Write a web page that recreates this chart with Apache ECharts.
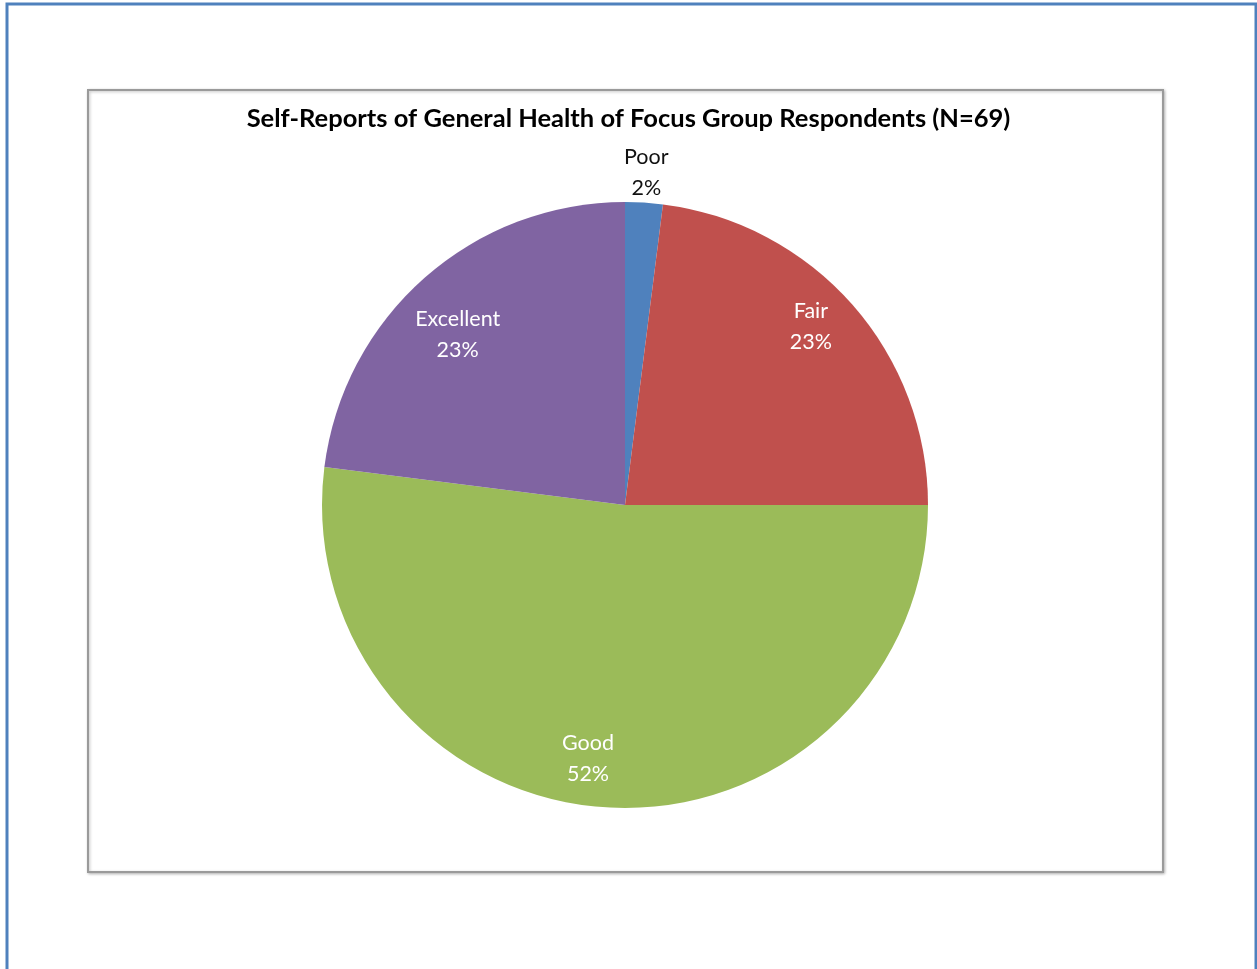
<!DOCTYPE html>
<html>
<head>
<meta charset="utf-8">
<script src="https://cdn.jsdelivr.net/npm/echarts@6/dist/echarts.min.js"></script>
<style>
  html, body { margin: 0; padding: 0; background: #ffffff; }
  #chart { width: 1257px; height: 969px; }
</style>
</head>
<body>
<div id="chart"></div>
<script>
// Survey answers, in percent of respondents
const titleText = 'Self-Reports of General Health of Focus Group Respondents (N=69)';
const categories = ['Poor', 'Fair', 'Good', 'Excellent'];
const shares = [2, 23, 52, 23];
const sliceColors = ['#4F81BD', '#C0504D', '#9BBB59', '#8064A2'];
// categories whose label sits above the rim instead of on the slice
const outsideLabelCategories = ['Poor'];
// small pixel nudges of each label from its default spot [dx, dy]
const labelNudge = {
  Poor: [0, 6],
  Fair: [-5, -10],
  Good: [-21, 0],
  Excellent: [1, 20]
};

const FONT = 'Lato, "Open Sans", "Noto Sans", sans-serif';
const R = 303;
const CENTER = [625, 505];

const isOutside = name => outsideLabelCategories.indexOf(name) >= 0;

const sliceData = categories.map((name, i) => ({
  name: name,
  value: shares[i],
  itemStyle: { color: sliceColors[i] }
}));

// transparent rings that carry the labels at the wanted radius
const ringData = (showFn) => categories.map((name, i) => ({
  name: name,
  value: shares[i],
  itemStyle: { color: 'rgba(0,0,0,0)' },
  label: { show: showFn(name) }
}));

const nudgeLayout = params => {
  const n = labelNudge[categories[params.dataIndex]] || [0, 0];
  return { dx: n[0], dy: n[1] };
};

const labelBase = {
  position: 'inside',
  formatter: '{b}\n{c}%',
  fontFamily: FONT,
  fontSize: 21.5,
  lineHeight: 31
};

const chart = echarts.init(document.getElementById('chart'), null, { renderer: 'canvas' });

chart.setOption({
  animation: false,
  backgroundColor: '#ffffff',
  title: {
    text: titleText,
    left: 'center',
    top: 101,
    textStyle: { fontFamily: FONT, fontSize: 25.5, fontWeight: 'bold', color: '#000000' }
  },
  graphic: [
    {
      type: 'rect',
      shape: { x: 7, y: 4, width: 1249, height: 1000 },
      style: { fill: 'none', stroke: '#4F81BD', lineWidth: 3 },
      z: 0
    },
    {
      type: 'rect',
      shape: { x: 88, y: 90, width: 1075, height: 782 },
      style: { fill: '#ffffff', stroke: '#9a9a9a', lineWidth: 2,
               shadowColor: 'rgba(0,0,0,0.25)', shadowBlur: 3, shadowOffsetX: 1, shadowOffsetY: 1 },
      z: 0
    }
  ],
  series: [
    {
      type: 'pie',
      center: CENTER,
      radius: [0, R],
      startAngle: 90,
      clockwise: true,
      avoidLabelOverlap: false,
      label: { show: false },
      labelLine: { show: false },
      emphasis: { disabled: true },
      itemStyle: { borderWidth: 0 },
      data: sliceData,
      z: 2
    },
    {
      type: 'pie',
      center: CENTER,
      radius: [Math.round(R * 0.66), R],
      startAngle: 90,
      clockwise: true,
      silent: true,
      avoidLabelOverlap: false,
      label: Object.assign({ color: '#ffffff' }, labelBase),
      labelLine: { show: false },
      labelLayout: nudgeLayout,
      emphasis: { disabled: true },
      data: ringData(n => !isOutside(n)),
      z: 3
    },
    {
      type: 'pie',
      center: CENTER,
      radius: [R + 4, R + 62],
      startAngle: 90,
      clockwise: true,
      silent: true,
      avoidLabelOverlap: false,
      label: Object.assign({ color: '#111111' }, labelBase),
      labelLine: { show: false },
      labelLayout: nudgeLayout,
      emphasis: { disabled: true },
      data: ringData(n => isOutside(n)),
      z: 3
    }
  ]
});
</script>
</body>
</html>
